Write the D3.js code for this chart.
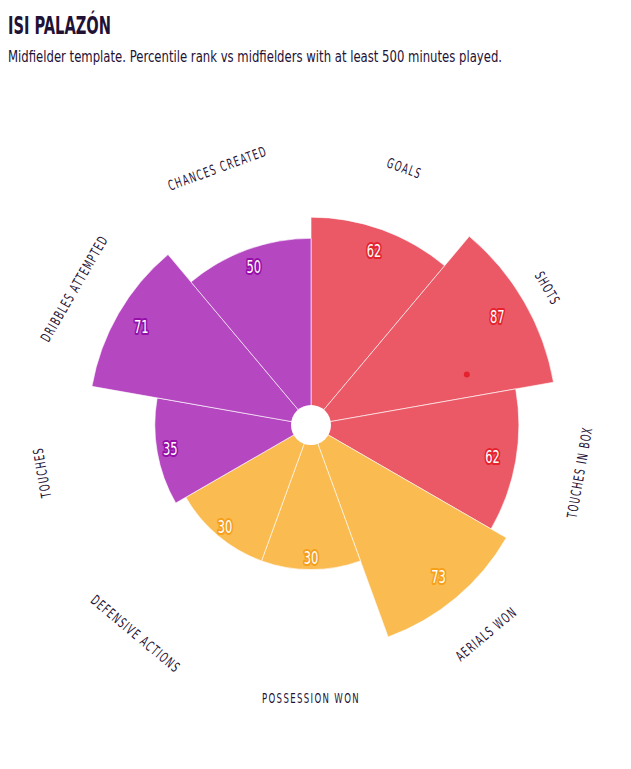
<!DOCTYPE html>
<html>
<head>
<meta charset="utf-8">
<script src="https://cdn.jsdelivr.net/npm/d3@7"></script>
<style>
    body { margin: 0; background: #fff; }
    text { font-family: "DejaVu Sans Condensed", "Liberation Sans Narrow", "Arial Narrow", sans-serif; }
</style>
</head>
<body>
<div id="chart"></div>
<script>
    // values
    var categories = ['Goals', 'Shots', 'Touches in box', 'Aerials won', 'Possession won',
                      'Defensive actions', 'Touches', 'Dribbles attempted', 'Chances created'];
    var percentiles = [62, 87, 62, 73, 30, 30, 35, 71, 50];
    var groups = ['attack', 'attack', 'attack', 'defence', 'defence', 'defence', 'possession', 'possession', 'possession'];
    var groupFill   = { attack: '#ec5966', defence: '#fabb51', possession: '#b547c1' };
    var groupStroke = { attack: '#e4232e', defence: '#f6a01a', possession: '#9510a8' };
    // the lone red dot inside the shots bar (value, position across the band 0..1)
    var markers = [{ category: 'Shots', value: 38.5, along: 0.8 }];

    var title = 'ISI PALAZÓN';
    var subtitle = 'Midfielder template. Percentile rank vs midfielders with at least 500 minutes played.';

    var width = 631, height = 769,
        cx = 311, cy = 425,
        outer = 264, hole = 20, labelRadius = 273;

    var svg = d3.select('#chart').append('svg')
        .attr('width', width)
        .attr('height', height);

    svg.append('text')
        .attr('x', 8).attr('y', 34)
        .attr('font-size', 25).attr('font-weight', 'bold')
        .attr('fill', '#1f1235')
        .attr('textLength', 103).attr('lengthAdjust', 'spacingAndGlyphs')
        .text(title);

    svg.append('text')
        .attr('x', 8).attr('y', 62)
        .attr('font-size', 15.5)
        .attr('fill', '#1f1235')
        .attr('textLength', 494).attr('lengthAdjust', 'spacingAndGlyphs')
        .text(subtitle);

    var data = categories.map(function(c, i){
        return { category: c, value: percentiles[i], group: groups[i] };
    });

    var x = d3.scaleBand().domain(categories).range([0, 2 * Math.PI]).padding(0);
    var y = d3.scaleRadial().domain([0, 100]).range([0, outer]);

    var root = svg.append('g').attr('transform', 'translate(' + cx + ',' + cy + ')');

    var arc = d3.arc()
        .innerRadius(0)
        .outerRadius(d => y(d.value))
        .startAngle(d => x(d.category))
        .endAngle(d => x(d.category) + x.bandwidth());

    root.selectAll('path.bar')
        .data(data)
        .join('path')
        .attr('class', 'bar')
        .attr('d', arc)
        .attr('fill', d => groupFill[d.group])
        .attr('stroke', '#ffffff')
        .attr('stroke-opacity', 0.6)
        .attr('stroke-width', 1);

    root.append('circle')
        .attr('r', hole)
        .attr('fill', '#ffffff');

    function polar(angle, r){
        return [r * Math.sin(angle), -r * Math.cos(angle)];
    }

    root.selectAll('circle.marker')
        .data(markers)
        .join('circle')
        .attr('class', 'marker')
        .attr('r', 3)
        .attr('fill', '#e4232e')
        .attr('transform', function(d){
            var p = polar(x(d.category) + x.bandwidth() * d.along, y(d.value));
            return 'translate(' + p[0] + ',' + p[1] + ')';
        });

    // value labels
    root.selectAll('text.value')
        .data(data)
        .join('text')
        .attr('class', 'value')
        .attr('transform', function(d){
            var p = polar(x(d.category) + x.bandwidth() / 2, y(d.value) * 0.8 + 18);
            return 'translate(' + p[0] + ',' + p[1] + ') scale(0.75,1)';
        })
        .attr('text-anchor', 'middle')
        .attr('dominant-baseline', 'central')
        .attr('font-size', 17)
        .attr('fill', '#ffffff')
        .attr('stroke', d => groupStroke[d.group])
        .attr('stroke-width', 4)
        .attr('stroke-linejoin', 'round')
        .attr('paint-order', 'stroke')
        .text(d => d.value);

    // category labels round the outside
    root.selectAll('text.category')
        .data(data)
        .join('text')
        .attr('class', 'category')
        .attr('transform', function(d){
            var mid = x(d.category) + x.bandwidth() / 2;
            var end = (x(d.category) + x.bandwidth()) * 180 / Math.PI;
            var deg = mid * 180 / Math.PI;
            if(end > 90 && end <= 270){
                deg += 180;
            }
            var p = polar(mid, labelRadius);
            return 'translate(' + p[0] + ',' + p[1] + ') rotate(' + deg + ') scale(0.68,1)';
        })
        .attr('text-anchor', 'middle')
        .attr('dominant-baseline', 'central')
        .attr('font-size', 14)
        .attr('letter-spacing', 2)
        .attr('fill', '#1f1235')
        .text(d => d.category.toUpperCase());
</script>
</body>
</html>
